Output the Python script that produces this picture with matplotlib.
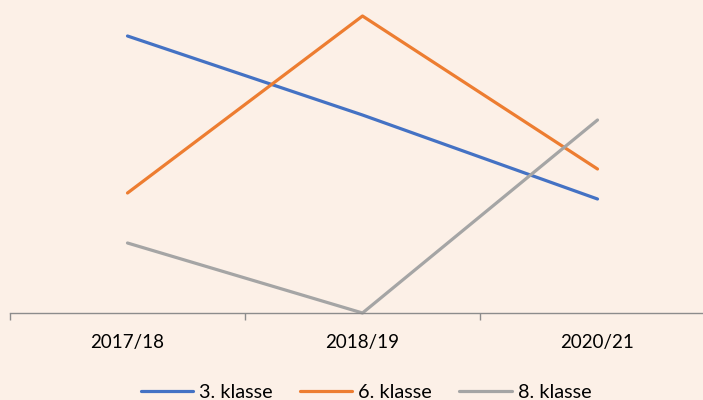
import matplotlib.pyplot as plt
from matplotlib.ticker import FixedLocator

plt.rcParams['font.family'] = ['Lato', 'DejaVu Sans']

years = ["2017/18", "2018/19", "2020/21"]
klasse3 = [277, 198, 114]
klasse6 = [120, 297, 144]
klasse8 = [70, 0, 193]

bg = "#FCF0E7"
fig = plt.figure(figsize=(7.03, 4.00), dpi=100, facecolor=bg)
ax = fig.add_axes([10/703, 87/400, 705/703, 313/400], facecolor=bg)

x = range(len(years))
ax.plot(x, klasse3, color="#4472C4", lw=2.3, label="3. klasse", clip_on=False, solid_capstyle="round")
ax.plot(x, klasse6, color="#ED7D31", lw=2.3, label="6. klasse", clip_on=False, solid_capstyle="round")
ax.plot(x, klasse8, color="#A5A5A5", lw=2.3, label="8. klasse", clip_on=False, solid_capstyle="round")

ax.set_xlim(-0.5, len(years) - 0.5)
ax.set_ylim(0, 313)
for s in ["top", "right", "left"]:
    ax.spines[s].set_visible(False)
ax.spines["bottom"].set_color("#8C8C8C")
ax.spines["bottom"].set_linewidth(1.0)
ax.set_yticks([])

ax.set_xticks(list(x))
ax.set_xticklabels(years, fontsize=13.5)
ax.tick_params(axis="x", which="major", length=0, pad=15)
ax.xaxis.set_minor_locator(FixedLocator([-0.5, 0.5, 1.5, 2.5]))
ax.tick_params(axis="x", which="minor", length=5, color="#8C8C8C", width=1.0)

# legend sits a bit right of centre in the original
fig.legend(loc="center", bbox_to_anchor=(366/703, 8/400), ncol=3, frameon=False,
           fontsize=14.3, handlelength=2.65, handletextpad=0.3, columnspacing=1.35)

fig.savefig("out.png", dpi=100, facecolor=bg)
